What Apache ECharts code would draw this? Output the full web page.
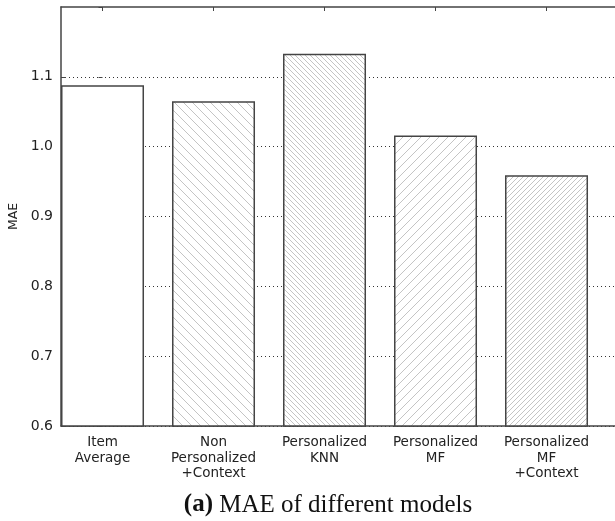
<!DOCTYPE html>
<html>
<head>
<meta charset="utf-8">
<script src="https://cdn.jsdelivr.net/npm/echarts@6/dist/echarts.min.js"></script>
<style>
    html, body { margin: 0; padding: 0; background: #fff; }
    #chart { width: 615px; height: 521px; }
</style>
</head>
<body>
<div id="chart"></div>
<script>
    var categories = ['Item\nAverage', 'Non\nPersonalized\n+Context', 'Personalized\nKNN', 'Personalized\nMF', 'Personalized\nMF\n+Context'];
    var maeValues = [1.088, 1.065, 1.133, 1.016, 0.959];
    var yTicks = [0.6, 0.7, 0.8, 0.9, 1.0, 1.1];

    // hatch fill: dir 1 = "\", 2 = "/"
    function hatch(dir, step) {
        var c = document.createElement('canvas');
        c.width = step;
        c.height = step;
        var ctx = c.getContext('2d');
        ctx.fillStyle = '#fff';
        ctx.fillRect(0, 0, step, step);
        ctx.strokeStyle = '#c4c4c4';
        ctx.lineWidth = 1;
        ctx.beginPath();
        if (dir === 1) {
            ctx.moveTo(-1, -1);
            ctx.lineTo(step + 1, step + 1);
        } else {
            ctx.moveTo(-1, step + 1);
            ctx.lineTo(step + 1, -1);
        }
        ctx.stroke();
        return {image: c, repeat: 'repeat'};
    }

    var fills = ['#fff', hatch(1, 9), hatch(1, 5), hatch(2, 9), hatch(2, 5)];
    var positions = [0, 1, 2, 3, 4];

    var barData = maeValues.map(function (v, i) {
        return {value: [i, v], itemStyle: {color: fills[i]}};
    });

    var option = {
        animation: false,
        grid: {left: 61, right: 0, top: 7, bottom: 95, outerBoundsMode: 'none', containLabel: false},
        xAxis: [
            {
                type: 'value',
                min: -0.374,
                max: 4.617,
                splitLine: {show: false},
                axisLine: {show: true, onZero: false, lineStyle: {color: '#444', width: 1.5}},
                axisTick: {show: false},
                axisLabel: {
                    customValues: positions,
                    formatter: function (v) { return categories[Math.round(v)]; },
                    fontFamily: 'DejaVu Sans',
                    fontSize: 13.5,
                    lineHeight: 15.5,
                    color: '#222',
                    margin: 9,
                    verticalAlign: 'top'
                }
            },
            {
                type: 'value',
                position: 'top',
                min: -0.374,
                max: 4.617,
                splitLine: {show: false},
                axisLine: {show: true, onZero: false, lineStyle: {color: '#444', width: 1.5}},
                axisTick: {show: true, inside: true, length: 4, customValues: positions, lineStyle: {color: '#444'}},
                axisLabel: {show: false}
            }
        ],
        yAxis: [
            {
                type: 'value',
                min: 0.6,
                max: 1.2,
                interval: 0.1,
                name: 'MAE',
                nameLocation: 'middle',
                nameGap: 41,
                nameTextStyle: {fontFamily: 'DejaVu Sans', fontSize: 12.5, color: '#222'},
                axisLine: {show: true, onZero: false, lineStyle: {color: '#444', width: 1.5}},
                axisTick: {show: true, inside: true, length: 5, customValues: yTicks, lineStyle: {color: '#444'}},
                axisLabel: {
                    customValues: yTicks,
                    formatter: function (v) { return v.toFixed(1); },
                    fontFamily: 'DejaVu Sans',
                    fontSize: 14,
                    color: '#222',
                    margin: 8
                },
                splitLine: {show: true, lineStyle: {color: '#333', type: [1, 3], width: 1}}
            },
            {
                type: 'value',
                position: 'right',
                min: 0.6,
                max: 1.2,
                interval: 0.1,
                axisLine: {show: false},
                axisTick: {show: true, inside: true, length: 4, lineStyle: {color: '#444'}},
                axisLabel: {show: false},
                splitLine: {show: false}
            }
        ],
        series: [
            {
                type: 'bar',
                barWidth: 83,
                data: barData,
                itemStyle: {borderColor: '#444', borderWidth: 1.5}
            }
        ],
        graphic: [
            {
                type: 'text',
                x: 328,
                y: 505,
                style: {
                    text: '{b|(a)} MAE of different models',
                    align: 'center',
                    verticalAlign: 'middle',
                    fontFamily: 'Liberation Serif',
                    fontSize: 25,
                    fill: '#111',
                    rich: {b: {fontFamily: 'Liberation Serif', fontSize: 25, fontWeight: 'bold', fill: '#111'}}
                }
            }
        ]
    };

    echarts.init(document.getElementById('chart')).setOption(option);
</script>
</body>
</html>
